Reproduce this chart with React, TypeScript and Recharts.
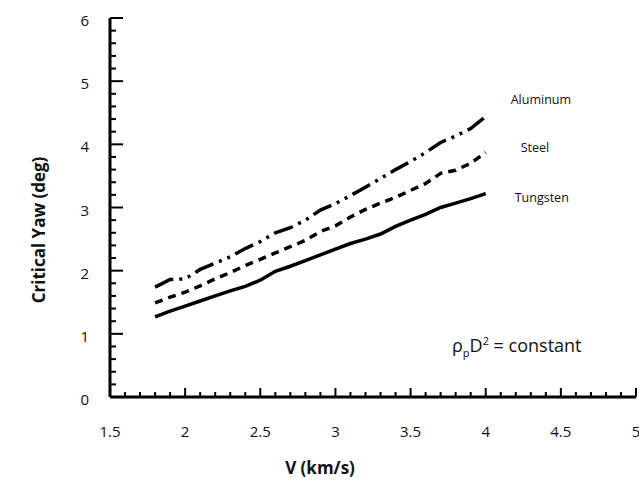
import { LineChart, Line, XAxis, YAxis } from 'recharts'

const velocity = [1.8, 1.9, 2.0, 2.1, 2.2, 2.3, 2.4, 2.5, 2.6, 2.7, 2.8, 2.9, 3.0, 3.1, 3.2, 3.3, 3.4, 3.5, 3.6, 3.7, 3.8, 3.9, 4.0]
const aluminum = [1.74, 1.86, 1.87, 2.02, 2.12, 2.22, 2.35, 2.46, 2.6, 2.68, 2.8, 2.96, 3.06, 3.19, 3.32, 3.46, 3.6, 3.73, 3.87, 4.03, 4.13, 4.25, 4.44]
const steel = [1.49, 1.58, 1.66, 1.76, 1.87, 1.97, 2.08, 2.18, 2.28, 2.38, 2.48, 2.62, 2.71, 2.85, 2.97, 3.07, 3.16, 3.27, 3.38, 3.54, 3.59, 3.7, 3.87]
const tungsten = [1.27, 1.36, 1.44, 1.52, 1.6, 1.68, 1.75, 1.85, 1.99, 2.07, 2.16, 2.25, 2.34, 2.43, 2.5, 2.58, 2.7, 2.8, 2.89, 3.0, 3.07, 3.14, 3.22]

const xTicks = [1.5, 1.6, 1.7, 1.8, 1.9, 2, 2.1, 2.2, 2.3, 2.4, 2.5, 2.6, 2.7, 2.8, 2.9, 3, 3.1, 3.2, 3.3, 3.4, 3.5, 3.6, 3.7, 3.8, 3.9, 4, 4.1, 4.2, 4.3, 4.4, 4.5, 4.6, 4.7, 4.8, 4.9, 5]
const yTicks = [0, 0.2, 0.4, 0.6, 0.8, 1, 1.2, 1.4, 1.6, 1.8, 2, 2.2, 2.4, 2.6, 2.8, 3, 3.2, 3.4, 3.6, 3.8, 4, 4.2, 4.4, 4.6, 4.8, 5, 5.2, 5.4, 5.6, 5.8, 6]

const data = velocity.map((v, i) => ({ v, aluminum: aluminum[i], steel: steel[i], tungsten: tungsten[i] }))

const font = '"Open Sans", sans-serif'

const isMajorX = (v: number) => Math.abs(v * 2 - Math.round(v * 2)) < 1e-6
const isMajorY = (v: number) => Math.abs(v - Math.round(v)) < 1e-6

// tickSize/tickMargin are 0 so x,y land on the axis line; draw inward ticks ourselves
const XTick = ({ x, y, payload }: any) => {
  const major = isMajorX(payload.value)
  return (
    <g>
      <line x1={x} x2={x} y1={y} y2={y - (major ? 9 : 5)} stroke="#000" strokeWidth={2} />
      {major && (
        <text x={x} y={y + 34} textAnchor="middle" dominantBaseline="central"
          fontFamily={font} fontSize={15} fill="#111">
          {String(payload.value)}
        </text>
      )}
    </g>
  )
}

const YTick = ({ x, y, payload }: any) => {
  const major = isMajorY(payload.value)
  return (
    <g>
      <line x1={x} x2={x + (major ? 13 : 6)} y1={y} y2={y} stroke="#000" strokeWidth={2} />
      {major && (
        <text x={x - 21} y={y + 2} textAnchor="end" dominantBaseline="central"
          fontFamily={font} fontSize={15} fill="#111">
          {String(payload.value)}
        </text>
      )}
    </g>
  )
}

const endLabel = (name: string, dx: number, dy: number) => (props: any) => {
  if (props.index !== velocity.length - 1) return null
  return (
    <text x={props.x + dx} y={props.y + dy} dominantBaseline="central"
      fontFamily={font} fontSize={12.5} fill="#111">
      {name}
    </text>
  )
}

export default function App() {
  return (
    <div style={{ position: 'absolute', left: 0, top: 0, width: 639, height: 480, background: '#fff' }}>
      <LineChart width={639} height={480} data={data}
        margin={{ top: 18, right: 3, left: 50, bottom: 43 }}>
        <XAxis dataKey="v" type="number" domain={[1.5, 5]} ticks={xTicks} interval={0}
          height={40} tickSize={0} tickMargin={0} tickLine={false}
          axisLine={{ stroke: '#000', strokeWidth: 3 }} tick={<XTick />} />
        <YAxis type="number" domain={[0, 6]} ticks={yTicks} interval={0}
          width={60} tickSize={0} tickMargin={0} tickLine={false}
          axisLine={{ stroke: '#000', strokeWidth: 3 }} tick={<YTick />} />
        <Line type="linear" dataKey="aluminum" stroke="#000" strokeWidth={3.5}
          strokeDasharray="20 6 3 6 3 6" dot={false} isAnimationActive={false}
          label={endLabel('Aluminum', 25, -17)} />
        <Line type="linear" dataKey="steel" stroke="#000" strokeWidth={3.5}
          strokeDasharray="8 6" dot={false} isAnimationActive={false}
          label={endLabel('Steel', 35, -5)} />
        <Line type="linear" dataKey="tungsten" stroke="#000" strokeWidth={3.5}
          dot={false} isAnimationActive={false}
          label={endLabel('Tungsten', 29, 4)} />
      </LineChart>
      <div style={{
        position: 'absolute', left: 38, top: 230, transform: 'translate(-50%, -50%) rotate(-90deg)',
        whiteSpace: 'nowrap', fontFamily: font, fontWeight: 700, fontSize: 17, color: '#111'
      }}>Critical Yaw (deg)</div>
      <div style={{
        position: 'absolute', left: 320, top: 467, transform: 'translate(-50%, -50%)',
        whiteSpace: 'nowrap', fontFamily: font, fontWeight: 700, fontSize: 17, color: '#111'
      }}>V (km/s)</div>
      <div style={{
        position: 'absolute', left: 452, top: 333, whiteSpace: 'nowrap',
        fontFamily: font, fontSize: 18, color: '#111'
      }}>
        ρ<sub style={{ fontSize: 11 }}>p</sub>D<sup style={{ fontSize: 11 }}>2</sup> = constant
      </div>
    </div>
  )
}
